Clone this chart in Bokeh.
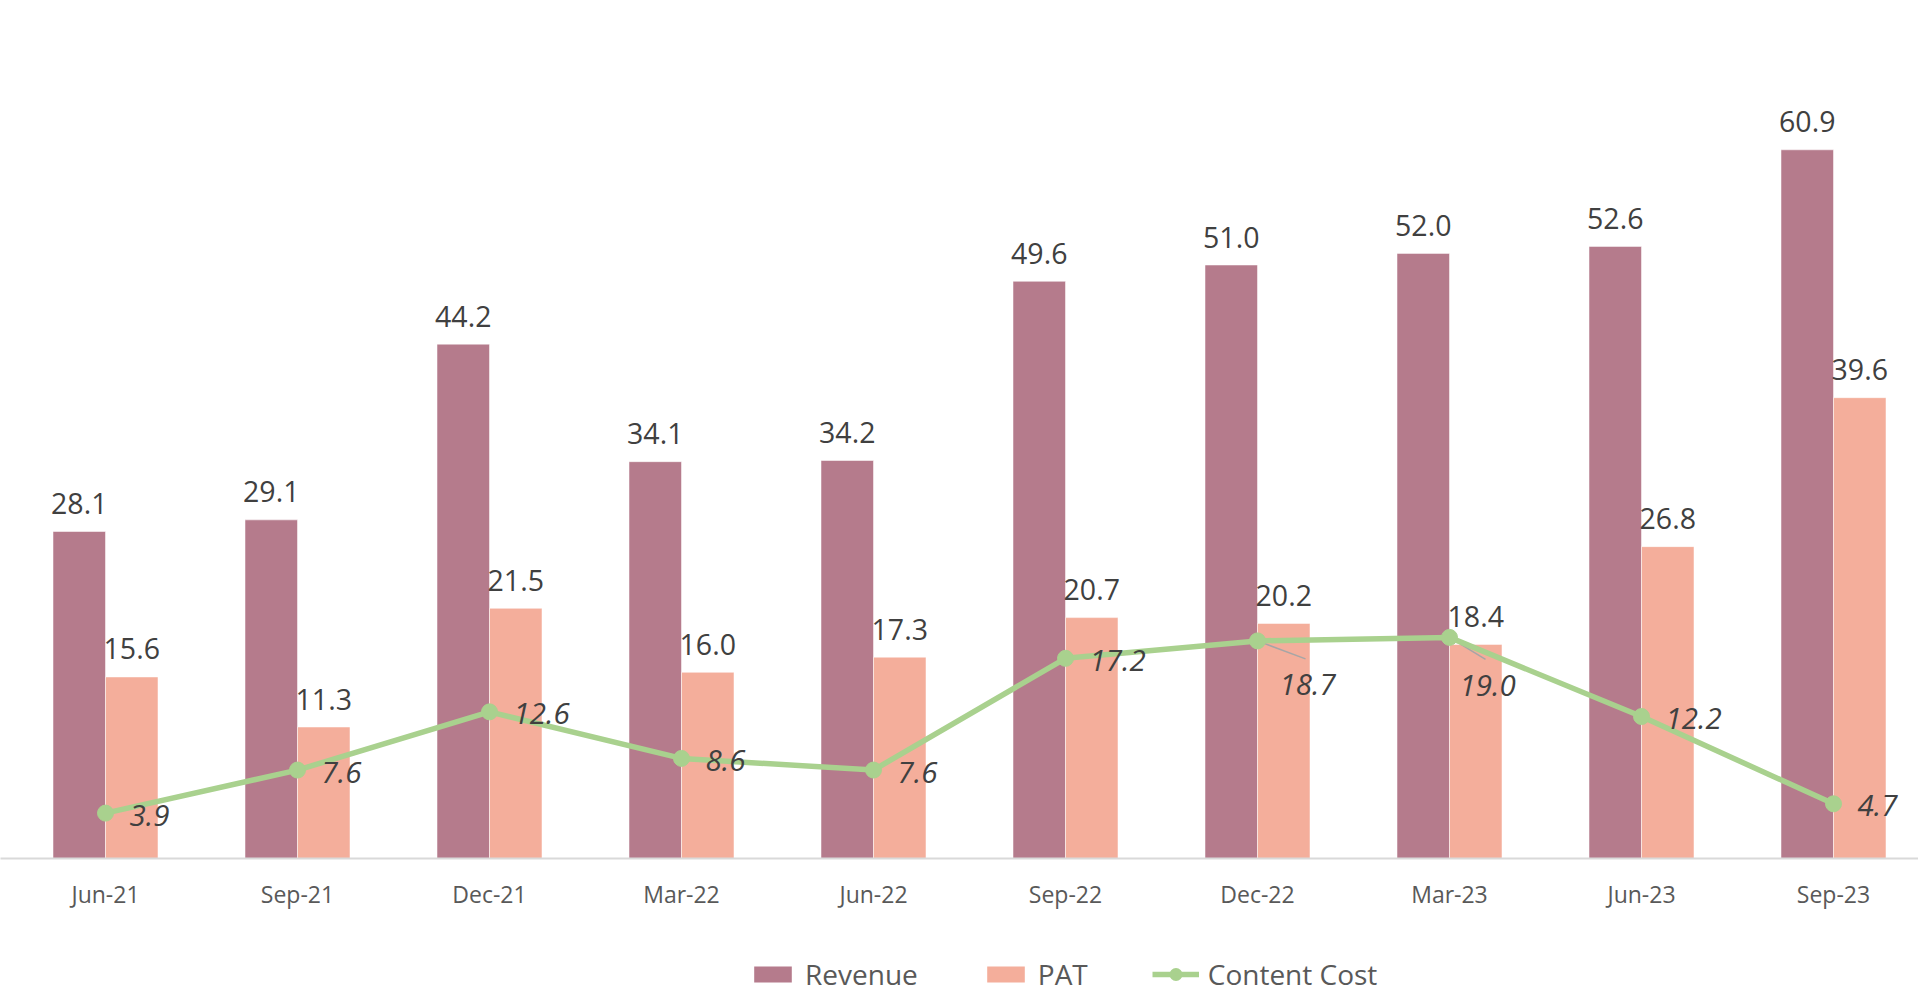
from bokeh.plotting import figure
from bokeh.layouts import column
from bokeh.models import Range1d, FixedTicker, Legend, LegendItem, ColumnDataSource
from bokeh.core.properties import value
from bokeh.transform import dodge
from bokeh.embed import file_html
from bokeh.resources import INLINE

# ---------------- data ----------------
categories = ["Jun-21", "Sep-21", "Dec-21", "Mar-22", "Jun-22",
              "Sep-22", "Dec-22", "Mar-23", "Jun-23", "Sep-23"]
revenue = [28.1, 29.1, 44.2, 34.1, 34.2, 49.6, 51.0, 52.0, 52.6, 60.9]
pat = [15.6, 11.3, 21.5, 16.0, 17.3, 20.7, 20.2, 18.4, 26.8, 39.6]
content_cost = [3.9, 7.6, 12.6, 8.6, 7.6, 17.2, 18.7, 19.0, 12.2, 4.7]

# ---------------- layout / style ----------------
W = 1918
FRAME_H = 858
AXIS_H = 60
H = FRAME_H + AXIS_H
LEG_H = 993 - H
PX_PER_CAT = 192.0
FIRST_CENTER_PX = 105.0
PX_PER_UNIT = 11.637
Y_END = FRAME_H / PX_PER_UNIT
BAR_W = 52.5 / PX_PER_CAT
X_START = -FIRST_CENTER_PX / PX_PER_CAT

REV_COLOR = "#B57B8C"
PAT_COLOR = "#F4AE9B"
LINE_COLOR = "#A9D18E"
LABEL_COLOR = "#404040"
AXIS_TEXT = "#595959"
FONT = "Open Sans"

# label offsets (screen px) for content cost labels; leader-line labels overridden
CC_DEFAULT_OFFSET = (24, 2)
CC_LEADER = {"Dec-22": (22, 44, 48, 18), "Mar-23": (10, 48, 36, 22)}

xs = list(range(len(categories)))
src = ColumnDataSource(dict(
    x=xs, cat=categories, revenue=revenue, pat=pat, cc=content_cost,
    rev_lbl=[f"{v:.1f}" for v in revenue],
    pat_lbl=[f"{v:.1f}" for v in pat],
    cc_lbl=[f"{v:.1f}" for v in content_cost],
    cc_dx=[CC_LEADER.get(c, CC_DEFAULT_OFFSET)[0] for c in categories],
    cc_dy=[CC_LEADER.get(c, CC_DEFAULT_OFFSET)[1] for c in categories],
))

p = figure(width=W, height=H, output_backend="svg", toolbar_location=None,
           x_range=Range1d(X_START, X_START + W / PX_PER_CAT), y_range=Range1d(0, Y_END),
           y_axis_location=None, min_border_left=0, min_border_right=0,
           min_border_top=0, min_border_bottom=AXIS_H)
p.outline_line_color = None
p.grid.visible = False
p.background_fill_color = "white"
p.border_fill_color = "white"

rev_r = p.vbar(x=dodge("x", -BAR_W / 2, range=p.x_range), top="revenue", width=BAR_W,
               source=src, fill_color=REV_COLOR, line_color="white", line_alpha=0.5, line_width=1)
pat_r = p.vbar(x=dodge("x", BAR_W / 2, range=p.x_range), top="pat", width=BAR_W,
               source=src, fill_color=PAT_COLOR, line_color="white", line_alpha=0.5, line_width=1)

p.text(x=dodge("x", -BAR_W / 2, range=p.x_range), y="revenue", text="rev_lbl", source=src,
       text_align="center", text_baseline="alphabetic", y_offset=-28,
       text_font=value(FONT), text_font_size="28.5px", text_color=LABEL_COLOR)
p.text(x=dodge("x", BAR_W / 2, range=p.x_range), y="pat", text="pat_lbl", source=src,
       text_align="center", text_baseline="alphabetic", y_offset=-28,
       text_font=value(FONT), text_font_size="28.5px", text_color=LABEL_COLOR)

# leader lines
lx0, ly0, lx1, ly1 = [], [], [], []
for i, c in enumerate(categories):
    if c in CC_LEADER:
        _, _, ex, ey = CC_LEADER[c]
        lx0.append(xs[i]); ly0.append(content_cost[i])
        lx1.append(xs[i] + ex / PX_PER_CAT); ly1.append(content_cost[i] - ey / PX_PER_UNIT)
p.segment(x0=lx0, y0=ly0, x1=lx1, y1=ly1, line_color="#A6A6A6", line_width=1.5)

line_r = p.line(x="x", y="cc", source=src, line_color=LINE_COLOR, line_width=5.5)
dot_r = p.scatter(x="x", y="cc", source=src, size=16, fill_color=LINE_COLOR, line_color=LINE_COLOR)

p.text(x="x", y="cc", text="cc_lbl", source=src, x_offset="cc_dx", y_offset="cc_dy",
       text_align="left", text_baseline="middle", text_font=value(FONT),
       text_font_style="italic", text_font_size="29.5px", text_color=LABEL_COLOR)

ax = p.xaxis[0]
ax.ticker = FixedTicker(ticks=xs)
ax.major_label_overrides = {x: c for x, c in zip(xs, categories)}
ax.major_tick_line_color = None
ax.minor_tick_line_color = None
ax.axis_line_color = "#D9D9D9"
ax.axis_line_width = 2
ax.major_label_text_font = FONT
ax.major_label_text_font_size = "23px"
ax.major_label_text_color = AXIS_TEXT
ax.major_label_standoff = 13

# ---------------- legend strip (legend swatches only; the proxy marks have zero size) ----------------
leg = figure(width=W, height=LEG_H, output_backend="svg", toolbar_location=None,
             x_range=Range1d(0, 1), y_range=Range1d(0, 1),
             x_axis_location=None, y_axis_location=None, min_border=0)
leg.outline_line_color = None
leg.grid.visible = False
leg.background_fill_color = "white"
leg.border_fill_color = "white"
lr1 = leg.vbar(x=[0.5], top=[0], bottom=[0], width=0, fill_color=REV_COLOR, line_color=None)
lr2 = leg.vbar(x=[0.5], top=[0], bottom=[0], width=0, fill_color=PAT_COLOR, line_color=None)
lr3 = leg.line(x=[-1000, -999], y=[0, 0], line_color=LINE_COLOR, line_width=5.5)
lr4 = leg.scatter(x=[-1000], y=[0], size=8, fill_color=LINE_COLOR, line_color=LINE_COLOR,
                  line_width=5)

legend = Legend(items=[LegendItem(label="Revenue", renderers=[lr1]),
                       LegendItem(label="PAT", renderers=[lr2]),
                       LegendItem(label="Content Cost", renderers=[lr3, lr4])],
                orientation="horizontal", location=(749, 0),
                glyph_width=47, glyph_height=20, label_standoff=9, spacing=64,
                padding=0, margin=0, border_line_color=None, background_fill_alpha=0,
                label_text_font=FONT, label_text_font_size="28px", label_text_color=AXIS_TEXT)
leg.add_layout(legend)

open("out.html", "w").write(file_html(column(p, leg, spacing=0), INLINE))
